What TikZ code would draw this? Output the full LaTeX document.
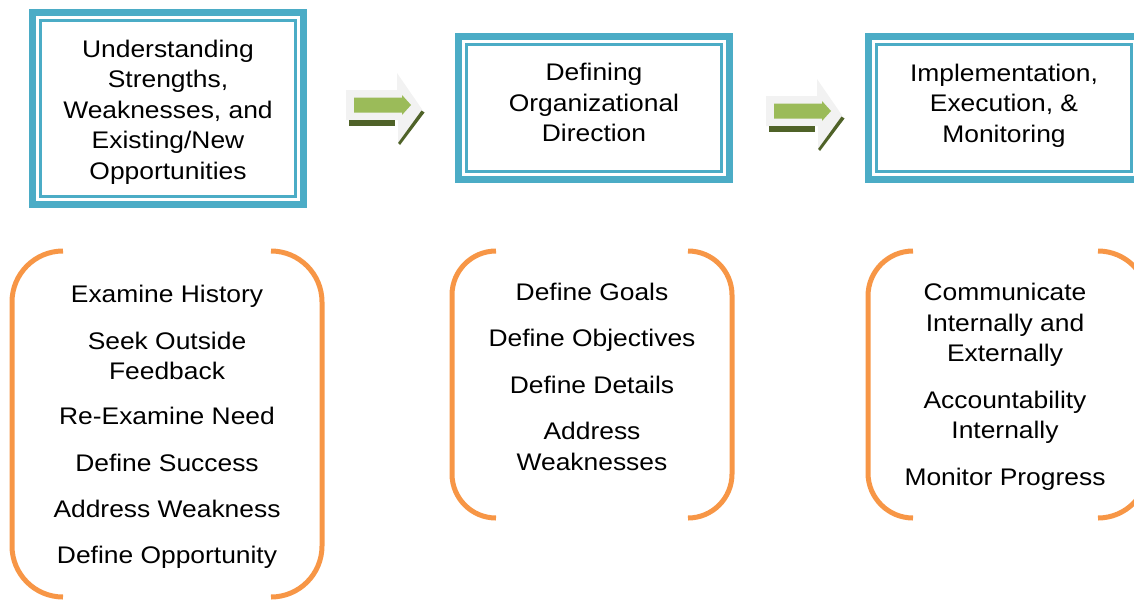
\documentclass[tikz,border=0pt]{standalone}
\usepackage{fontspec}
\setmainfont{Liberation Sans}[FakeStretch=1.1]
\definecolor{tealc}{HTML}{4BACC6}
\definecolor{orangec}{HTML}{F79646}
\definecolor{greenc}{HTML}{9BBB59}
\definecolor{darkgreenc}{HTML}{4F6228}
\definecolor{grayc}{HTML}{F2F2F2}
\begin{document}
\begin{tikzpicture}[x=1pt,y=-1pt,
  stagebox/.style={draw=tealc, line width=7pt, fill=white, minimum width=271pt, inner sep=0pt,
    path picture={\draw[tealc,line width=2.5pt]
      ([shift={(8,8)}]path picture bounding box.north west) rectangle
      ([shift={(-8,-8)}]path picture bounding box.south east);}},
  stagetext/.style={anchor=north, inner sep=0pt, align=center, font=\fontsize{24}{30.5}\selectfont},
  bracketline/.style={draw=orangec, line width=5pt},
  steparrow/.pic={
    \fill[grayc] (0,17) -- (51,17) -- (51,0) -- (76.5,37) -- (52,70) -- (52,47) -- (0,47) -- cycle;
    \fill[darkgreenc] (3,47) rectangle (49,52.5);
    \fill[darkgreenc] (75.5,37.5) -- (78.5,39.5) -- (54,72) -- (52,70) -- cycle;
    \fill[greenc] (8,24.5) -- (56,24.5) -- (56,22) -- (65,32) -- (56,42) -- (56,39.5) -- (8,39.5) -- cycle;
  }]
\useasboundingbox (0,0) rectangle (1134,600);
\clip (0,0) rectangle (1134,600);

% stage boxes
\node[stagebox, minimum height=192pt] (b1) at (168,108.5) {};
\node[stagebox, minimum height=143pt] (b2) at (594,108) {};
\node[stagebox, minimum height=143pt] (b3) at (1004,108) {};

\node[stagetext] (t1) at (168,39.5) {Understanding\\Strengths,\\Weaknesses, and\\Existing/New\\Opportunities};
\node[stagetext] (t2) at (594,63) {Defining\\Organizational\\Direction};
\node[stagetext] (t3) at (1004,63.5) {Implementation,\\Execution, \&\\Monitoring};

% arrows
\pic at (346,73) {steparrow};
\pic at (766,79) {steparrow};

% brackets
\draw[bracketline, rounded corners=51pt] (63,251) -| (12,597) -- (63,597);
\draw[bracketline, rounded corners=51pt] (271,251) -| (322,597) -- (271,597);
\draw[bracketline, rounded corners=44pt] (496,251) -| (452,518) -- (496,518);
\draw[bracketline, rounded corners=44pt] (688,251) -| (732,518) -- (688,518);
\draw[bracketline, rounded corners=45pt] (913,251) -| (868,518) -- (913,518);
\draw[bracketline, rounded corners=50pt] (1098,251) -| (1148,518) -- (1098,518);

% lists
\node[stagetext] (l1) at (167,285) {Examine History\\[16pt]Seek Outside\\Feedback\\[14.5pt]Re-Examine Need\\[16pt]Define Success\\[16pt]Address Weakness\\[15.5pt]Define Opportunity};
\node[stagetext] (l2) at (592,283) {Define Goals\\[15.5pt]Define Objectives\\[16pt]Define Details\\[16pt]Address\\Weaknesses};
\node[stagetext] (l3) at (1005,283) {Communicate\\Internally and\\Externally\\[16pt]Accountability\\Internally\\[16pt]Monitor Progress};
\end{tikzpicture}
\end{document}
